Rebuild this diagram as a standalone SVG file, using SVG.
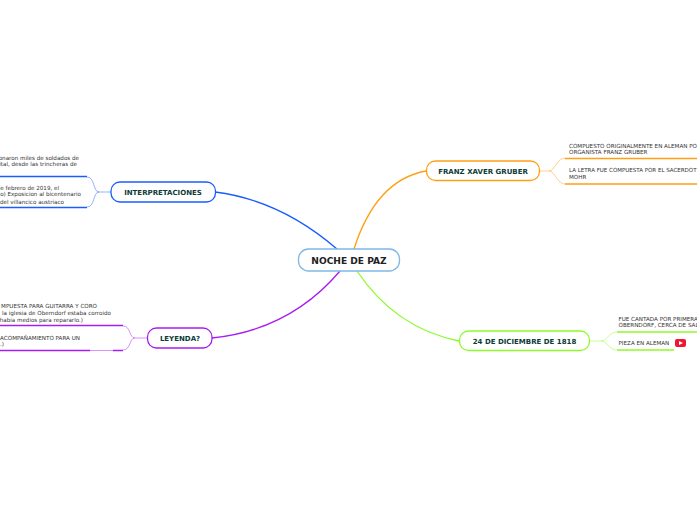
<svg xmlns="http://www.w3.org/2000/svg" width="697" height="520" viewBox="0 0 697 520">
<style>
text{font-family:"DejaVu Sans",Verdana,sans-serif}
.t{font-size:7px;font-weight:700;fill:#0c3b36;text-anchor:middle}
.s{font-size:5.600px;fill:#333}
.n{fill:#fff;stroke-width:1.300}
.c{fill:none;stroke-width:1.300}
.h{fill:none;stroke-width:1.400}
.f{fill:none;stroke-width:.8;stroke-opacity:.6}
.o{stroke:#ff9f14}.g{stroke:#8dfa2a}.b{stroke:#1a5cff}.p{stroke:#a81cf2}
</style>
<g id="connectors">
<path class="c b" d="M337 249Q280 200 215 192"/>
<path class="c p" d="M340 271Q290 330 212 338"/>
<path class="c o" d="M354 249Q376 180 426 171"/>
<path class="c g" d="M357 271Q395 328 459 341"/>
<path class="f o" d="M540 171H549C555 171 557 158 565 158M549 171C555 171 557 184 565 184"/>
<path class="h o" d="M565 158.500H697M565 184H697"/>
<path class="f g" d="M590 341H601C607 341 609 332 617 332M601 341C607 341 609 350 617 350"/>
<path class="h g" d="M617 332H697M617 350H674"/>
<path class="f b" d="M111 192H99C93 192 95 177 87 177M99 192C93 192 95 207 87 207"/>
<path class="h b" d="M0 176.500H87M0 207.500H87"/>
<path class="f p" d="M147 338H135C129 338 131 326 123 326M135 338C129 338 131 350 123 350"/>
<path class="h p" d="M0 325.500H123M0 350.500H90M113 350.500H123"/>
<path class="f p" d="M90 350.500H113"/>
</g>
<g id="center"><rect class="n" x="298.500" y="249" width="101" height="22" rx="10" stroke="#7fb8e6" stroke-width="2"/><text x="349" y="263.500" font-size="9.100" font-weight="700" fill="#222" text-anchor="middle">NOCHE DE PAZ</text></g>
<g id="gruber"><rect class="n o" x="426.500" y="161" width="113" height="19.500" rx="9"/><text class="t" x="483" y="173.500">FRANZ XAVER GRUBER</text></g>
<g id="dic"><rect class="n g" x="459.500" y="331" width="130" height="19.500" rx="9"/><text class="t" x="524.500" y="343.500">24 DE DICIEMBRE DE 1818</text></g>
<g id="interp"><rect class="n b" x="111" y="182" width="104.500" height="20" rx="9"/><text class="t" x="163" y="194.500">INTERPRETACIONES</text></g>
<g id="leyenda"><rect class="n p" x="147.500" y="328" width="64.500" height="20" rx="9"/><text class="t" x="180" y="340.500">LEYENDA?</text></g>
<g id="t-gruber1"><text class="s" x="569" y="148">COMPUESTO ORIGINALMENTE EN ALEMAN PO</text><text class="s" x="569" y="154">ORGANISTA FRANZ GRUBER</text></g>
<g id="t-gruber2"><text class="s" x="569" y="172" textLength="127.500" lengthAdjust="spacingAndGlyphs">LA LETRA FUE COMPUESTA POR EL SACERDOT</text><text class="s" x="569" y="179">MOHR</text></g>
<g id="t-dic1"><text class="s" x="618.500" y="321">FUE CANTADA POR PRIMERA</text><text class="s" x="618.500" y="327">OBERNDORF, CERCA DE SAL</text></g>
<g id="t-dic2"><text class="s" x="618.500" y="345">PIEZA EN ALEMAN</text><rect x="675" y="339" width="11" height="8" rx="2" fill="#f01530"/><path d="M679 341L683 343L679 345Z" fill="#fff"/></g>
<g id="t-int1"><text class="s" text-anchor="end" x="79" y="160">onaron miles de soldados de</text><text class="s" text-anchor="end" x="77" y="166">ital, desde las trincheras de</text></g>
<g id="t-int2"><text class="s" text-anchor="end" x="59" y="190">e febrero de 2019, el</text><text class="s" text-anchor="end" x="81" y="196">lo) Exposicion al bicentenario</text><text class="s" text-anchor="end" x="64" y="204">del villancico austriaco</text></g>
<g id="t-ley1"><text class="s" text-anchor="end" x="97" y="308">MPUESTA PARA GUITARRA Y CORO</text><text class="s" text-anchor="end" x="111" y="315">la iglesia de Oberndorf estaba corroido</text><text class="s" text-anchor="end" x="83" y="322">habia medios para repararlo.)</text></g>
<g id="t-ley2"><text class="s" text-anchor="end" x="80" y="340">ACOMPAÑAMIENTO PARA UN</text><text class="s" text-anchor="end" x="4" y="346">.)</text></g>
</svg>
